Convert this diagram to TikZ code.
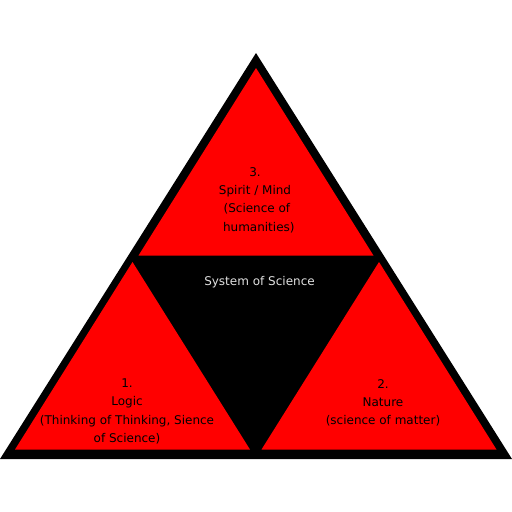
\documentclass[tikz,border=0pt]{standalone}
\usepackage{fontspec}
\setmainfont{DejaVu Sans}
\tikzset{
  part/.style={fill=red},
  parttext/.style={align=center,text=black,font=\fontsize{12}{18.3}\selectfont},
  midtext/.style={text=black!12,font=\fontsize{12}{14}\selectfont}
}
\begin{document}
\begin{tikzpicture}[x=1pt,y=-1pt]
        \useasboundingbox (0,0) rectangle (512,512);
        % outer black triangle
        \coordinate (L) at (0,459);
        \coordinate (T) at (256,53);
        \coordinate (R) at (512,459);
        \fill[black] (L)--(T)--(R)--cycle;
        % three red parts
        \foreach \x/\y in {256/68, 132.5/262, 379/262}
        \fill[part] (\x,\y)--(\x-117.5,\y+187.5)--(\x+117.5,\y+187.5)--cycle;
        \node[parttext] (mind) at (255,200) {3.\\Spirit / Mind\\\ (Science of\\\ \ humanities)};
        \node[parttext] (logic) at (127,411.5) {1.\\Logic\\(Thinking of Thinking, Sience\\of Science)};
        \node[parttext] (nature) at (383,403) {2.\\Nature\\(science of matter)};
        \node[midtext] (system) at (259.5,282) {System of Science};
    \end{tikzpicture}
\end{document}
